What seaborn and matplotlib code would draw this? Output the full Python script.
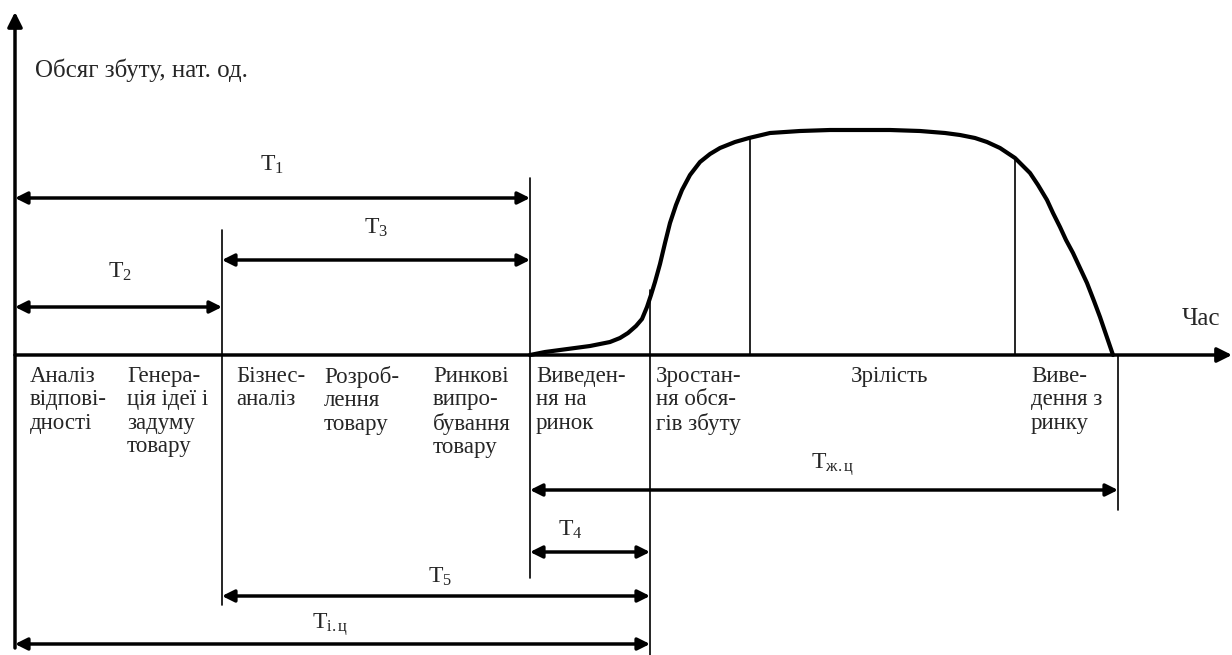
import numpy as np
import pandas as pd
import seaborn as sns
import matplotlib.pyplot as plt

# sales curve (time in px along the axis, sales height above the time axis)
curve_time = [530, 545, 560, 575, 590, 600, 610, 620, 628, 636, 642, 647, 651, 655,
              660, 665, 670, 676, 682, 690, 700, 710, 720, 735, 749, 770, 800,
              830, 860, 890, 920, 945, 960, 975, 987, 1000, 1015, 1022, 1030,
              1038, 1047, 1053, 1060, 1066, 1073, 1080, 1087, 1094, 1100, 1113]
curve_sales = [0, 3, 5, 7, 9, 11, 13, 17, 22, 29, 36, 48, 60, 73,
               91, 112, 132, 150, 165, 180, 193, 201, 207, 213, 217, 222, 224,
               225, 225, 225, 224, 222, 220, 217, 213, 207, 197, 190, 182,
               170, 155, 142, 128, 115, 102, 87, 72, 54, 38, 0]

# period arrows: label, start, end, level
period_labels = [r"T$_1$", r"T$_3$", r"T$_2$", r"T$_{\mathrm{ж.ц}}$", r"T$_4$", r"T$_5$", r"T$_{\mathrm{і.ц}}$"]
period_start = [15, 222, 15, 530, 530, 222, 15]
period_end = [530, 530, 222, 1118, 650, 650, 650]
period_level = [157, 95, 48, -135, -197, -241, -289]

# stage boundary lines
bound_x = [222, 530, 650, 750, 1015, 1118]
bound_top = [125, 177, 65, None, None, 0]
bound_bottom = [-250, -223, -300, 0, 0, -155]

stage_names = ["Аналіз\nвідпові-\nдності", "Генера-\nція ідеї і\nзадуму\nтовару",
               "Бізнес-\nаналіз", "Розроб-\nлення\nтовару", "Ринкові\nвипро-\nбування\nтовару",
               "Виведен-\nня на\nринок", "Зростан-\nня обся-\nгів збуту", "Зрілість",
               "Виве-\nдення з\nринку"]
stage_x = [30, 127, 236, 324, 433, 536, 656, 851, 1031]

sns.set_theme(style="white")
plt.rcParams["font.family"] = ["Liberation Serif", "DejaVu Serif"]
plt.rcParams["mathtext.fontset"] = "custom"
plt.rcParams["mathtext.rm"] = "Liberation Serif"
plt.rcParams["mathtext.it"] = "Liberation Serif"

fig = plt.figure(figsize=(12.32, 6.55), dpi=100)
ax = fig.add_axes([0, 0, 1, 1])
ax.set_xlim(0, 1232)
ax.set_ylim(-300, 355)
ax.axis("off")

df = pd.DataFrame({"time": curve_time, "sales": curve_sales})
sns.lineplot(data=df, x="time", y="sales", color="black", linewidth=3, ax=ax, sort=False)

# axes arrows
ax.annotate("", xy=(15, 343), xytext=(15, -293),
            arrowprops=dict(arrowstyle="-|>", color="black", lw=2.5, mutation_scale=22, shrinkA=0, shrinkB=0))
ax.annotate("", xy=(1232, 0), xytext=(15, 0),
            arrowprops=dict(arrowstyle="-|>", color="black", lw=2.5, mutation_scale=22, shrinkA=0, shrinkB=0))

# boundary lines
for x, top, bot in zip(bound_x, bound_top, bound_bottom):
    if top is None:
        top = np.interp(x, curve_time, curve_sales)
    ax.plot([x, x], [bot, top], color="black", lw=1.2)

# period arrows
for lab, s, e, lev in zip(period_labels, period_start, period_end, period_level):
    ax.annotate("", xy=(e, lev), xytext=(s, lev),
                arrowprops=dict(arrowstyle="<|-|>", color="black", lw=2.5, mutation_scale=18,
                                shrinkA=0, shrinkB=0))

label_x = [272, 376, 120, 833, 570, 440, 330]
label_y = [190, 127, 83, -110, -175, -222, -270]
for lab, x, y in zip(period_labels, label_x, label_y):
    ax.text(x, y, lab, fontsize=17, ha="center", va="center")

for name, x in zip(stage_names, stage_x):
    ax.text(x, -11, name, fontsize=16.5, ha="left", va="top", linespacing=1.15)

ax.text(35, 285, "Обсяг збуту, нат. од.", fontsize=18, ha="left", va="center")
ax.text(1201, 36, "Час", fontsize=18, ha="center", va="center")

fig.savefig("out.png", dpi=100)
